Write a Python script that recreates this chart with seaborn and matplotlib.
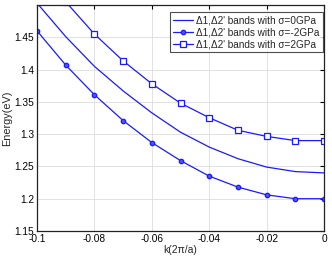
import numpy as np
import pandas as pd
import matplotlib
matplotlib.use("Agg")
import matplotlib.pyplot as plt
import seaborn as sns

k = [-0.1, -0.09, -0.08, -0.07, -0.06, -0.05, -0.04, -0.03, -0.02, -0.01, 0.0]
e_0gpa = [1.503, 1.451, 1.405, 1.367, 1.333, 1.303, 1.280, 1.262, 1.249, 1.242, 1.240]
e_m2gpa = [1.460, 1.407, 1.361, 1.321, 1.287, 1.259, 1.235, 1.218, 1.206, 1.200, 1.200]
e_p2gpa = [1.558, 1.505, 1.455, 1.4135, 1.378, 1.348, 1.3255, 1.306, 1.2965, 1.290, 1.290]
labels = ["\u03941,\u03942' bands with \u03c3=0GPa",
          "\u03941,\u03942' bands with \u03c3=-2GPa",
          "\u03941,\u03942' bands with \u03c3=2GPa"]
xticks = [-0.1, -0.08, -0.06, -0.04, -0.02, 0]
xticklabels = ["-0.1", "-0.08", "-0.06", "-0.04", "-0.02", "0"]
yticks = [1.15, 1.2, 1.25, 1.3, 1.35, 1.4, 1.45]
yticklabels = ["1.15", "1.2", "1.25", "1.3", "1.35", "1.4", "1.45"]

sns.set_style("white")
plt.rcParams['font.family'] = ['Liberation Sans', 'DejaVu Sans']
plt.rcParams['font.size'] = 7

fig = plt.figure(figsize=(3.32, 2.58), dpi=100)
ax = fig.add_axes([37/332, 27/258, 287/332, 226/258])

blue = "#1a1aff"
df0 = pd.DataFrame({"k": k, "E": e_0gpa})
dfm = pd.DataFrame({"k": k, "E": e_m2gpa})
dfp = pd.DataFrame({"k": k, "E": e_p2gpa})
sns.lineplot(data=df0, x="k", y="E", ax=ax, color=blue, lw=0.9, label=labels[0])
sns.lineplot(data=dfm, x="k", y="E", ax=ax, color=blue, lw=0.9, marker="o",
             markersize=3.2, markerfacecolor="#5050ff", markeredgecolor=blue,
             markeredgewidth=0.9, label=labels[1])
sns.lineplot(data=dfp, x="k", y="E", ax=ax, color=blue, lw=0.9, marker="s",
             markersize=3.8, markerfacecolor="white", markeredgecolor=blue,
             markeredgewidth=0.9, label=labels[2])

ax.set_xlim(-0.1, 0)
ax.set_ylim(1.15, 1.5)
ax.set_xticks(xticks)
ax.set_xticklabels(xticklabels)
ax.set_yticks(yticks)
ax.set_yticklabels(yticklabels)
ax.grid(True, color="#dddddd", lw=0.6)
ax.set_axisbelow(True)
ax.tick_params(direction="in", length=3, width=0.8, top=True, right=True,
               labelsize=7.3, pad=2, colors="black")
for s in ax.spines.values():
    s.set_color("#222222")
    s.set_linewidth(0.9)
ax.set_xlabel("k(2\u03c0/a)", fontsize=7.5, labelpad=1)
ax.set_ylabel("Energy(eV)", fontsize=7.8, labelpad=2)

leg = ax.legend(loc="upper right", bbox_to_anchor=(0.995, 0.969),
                borderaxespad=0, fontsize=7.2, frameon=True,
                fancybox=False, edgecolor="#222222", handlelength=2.0,
                handletextpad=0.3, labelspacing=0.2, borderpad=0.3)
leg.get_frame().set_linewidth(0.8)

fig.savefig("out.png", dpi=100)
